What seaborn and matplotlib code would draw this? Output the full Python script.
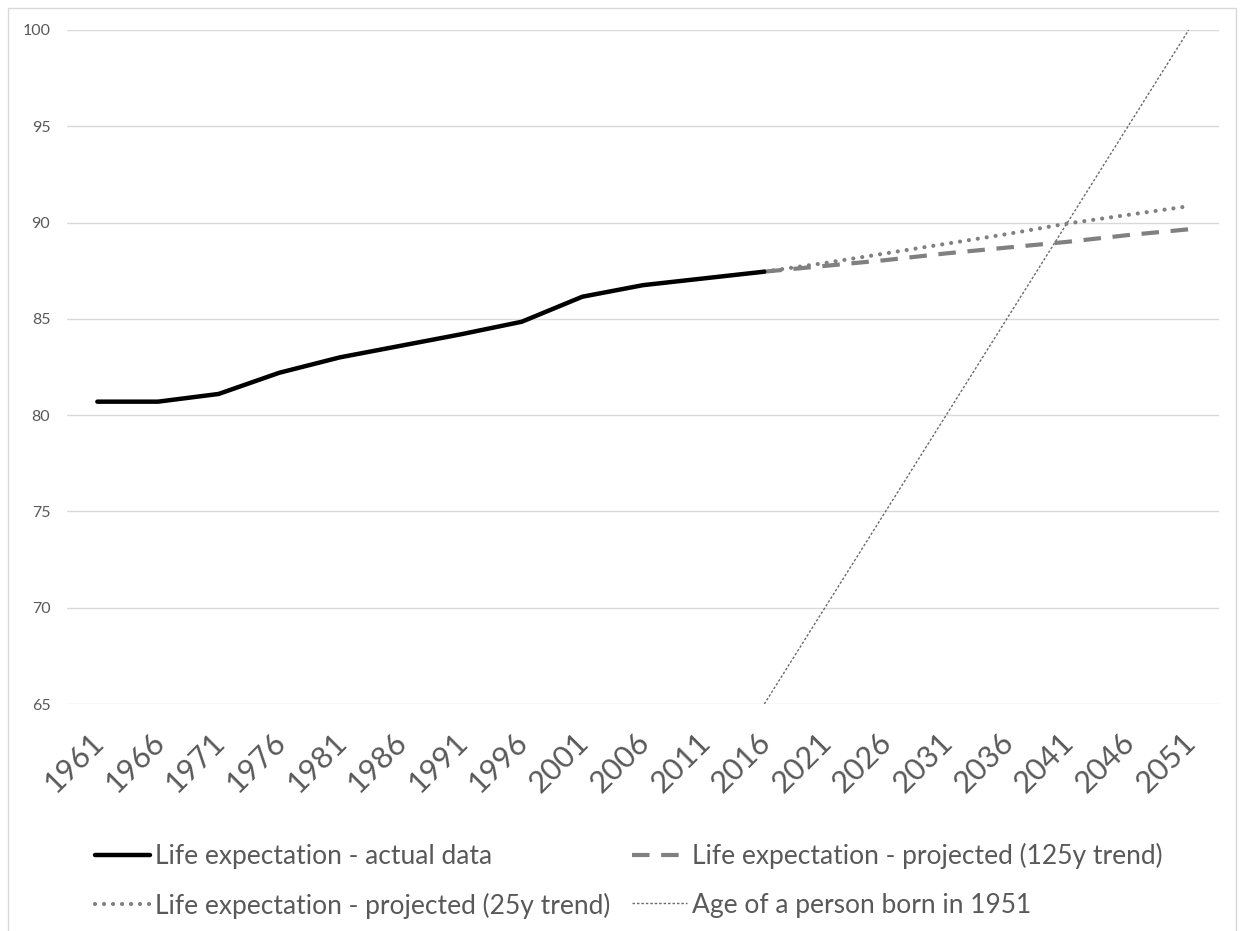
import matplotlib
matplotlib.use("Agg")
import matplotlib.pyplot as plt
from matplotlib.patches import Rectangle
from matplotlib.transforms import ScaledTranslation
import seaborn as sns
import pandas as pd

# Life expectancy series (years)
years_actual = [1961, 1966, 1971, 1976, 1981, 1986, 1991, 1996, 2001, 2006, 2011, 2016]
life_actual = [80.7, 80.7, 81.1, 82.2, 83.0, 83.6, 84.2, 84.85, 86.15, 86.75, 87.1, 87.45]

years_proj = [2016, 2021, 2026, 2031, 2036, 2041, 2046, 2051]
proj_125y = [87.45, 87.75, 88.05, 88.4, 88.7, 89.0, 89.35, 89.65]
proj_25y = [87.45, 87.9, 88.4, 88.9, 89.4, 89.95, 90.4, 90.85]
age_born_1951 = [65, 70, 75, 80, 85, 90, 95, 100]

x_ticks = list(range(1961, 2052, 5))
y_ticks = [65, 70, 75, 80, 85, 90, 95, 100]

label_actual = "Life expectation - actual data"
label_125y = "Life expectation - projected (125y trend)"
label_25y = "Life expectation - projected (25y trend)"
label_age = "Age of a person born in 1951"

sns.set_theme(style="white")
plt.rcParams["font.family"] = ["Lato", "DejaVu Sans"]

TEXT = "#595959"
GRID = "#d9d9d9"
GREY = "#808080"

fig = plt.figure(figsize=(12.41, 9.31), dpi=100)
ax = fig.add_axes([0.054, 0.2438, 0.9283, 0.724])

df_actual = pd.DataFrame({"year": years_actual, "value": life_actual})
df_proj = pd.DataFrame({"year": years_proj, "p125": proj_125y,
                        "p25": proj_25y, "age": age_born_1951})

sns.lineplot(data=df_proj, x="year", y="age", ax=ax, color="#6a6a6a",
             lw=1.0, linestyle=(0, (1.8, 1.4)), label=label_age, zorder=2)
sns.lineplot(data=df_proj, x="year", y="p125", ax=ax, color=GREY,
             lw=3.0, linestyle=(0, (4.2, 2.8)), label=label_125y, zorder=3)
sns.lineplot(data=df_proj, x="year", y="p25", ax=ax, color=GREY,
             lw=3.0, linestyle=(0, (0.01, 2.15)), dash_capstyle="round",
             label=label_25y, zorder=3)
sns.lineplot(data=df_actual, x="year", y="value", ax=ax, color="black",
             lw=3.2, solid_joinstyle="round", solid_capstyle="round",
             label=label_actual, zorder=4)

ax.set_xlim(1958.5, 2053.5)
ax.set_ylim(65, 100)
ax.set_xticks(x_ticks)
ax.set_yticks(y_ticks)
ax.set_xticklabels([str(y) for y in x_ticks], rotation=45, ha="right",
                   va="center", rotation_mode="anchor")
ax.tick_params(axis="x", length=0, pad=24, labelsize=22, labelcolor=TEXT)
ax.tick_params(axis="y", length=0, pad=12, labelsize=11.5, labelcolor=TEXT)
shift = ScaledTranslation(2 / 100, 0, fig.dpi_scale_trans)
for lab in ax.get_xticklabels():
    lab.set_transform(lab.get_transform() + shift)
ax.set_xlabel("")
ax.set_ylabel("")
ax.grid(axis="y", color=GRID, lw=1.0)
ax.grid(axis="x", visible=False)
for s in ax.spines.values():
    s.set_visible(False)

# Legend in two columns under the plot
handles, labels = ax.get_legend_handles_labels()
order = [label_actual, label_25y, label_125y, label_age]
hmap = dict(zip(labels, handles))
ax.get_legend().remove()
fig.legend([hmap[l] for l in order], order, loc="upper left",
           bbox_to_anchor=(0.0766, 1 - 843 / 931), ncol=2, frameon=False,
           borderpad=0, borderaxespad=0, handlelength=2.08, handletextpad=0.2,
           columnspacing=0.8, labelspacing=0.89, fontsize=19,
           labelcolor=TEXT)

# Chart area border
fig.patches.append(Rectangle((8 / 1241, -0.02), (1236 - 8) / 1241,
                             1.02 - 8 / 931, transform=fig.transFigure,
                             fill=False, edgecolor=GRID, lw=1.0))

fig.savefig("out.png", dpi=100, facecolor="white")
